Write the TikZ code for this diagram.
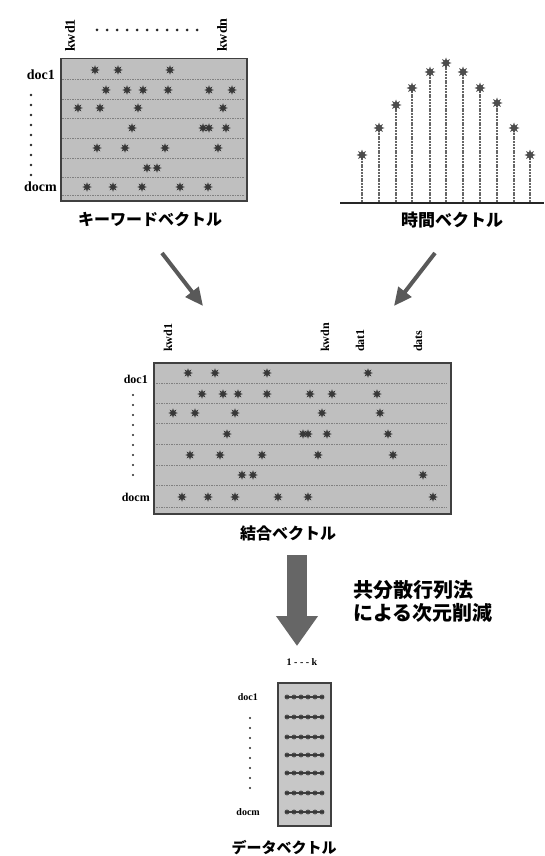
\documentclass[tikz,border=0pt]{standalone}
\usepackage{fontspec}
\setmainfont{Liberation Serif}
\newfontfamily\jp{Noto Sans CJK JP}
\usetikzlibrary{shapes.geometric,arrows.meta}
\begin{document}
\begin{tikzpicture}[x=1pt,y=-1pt,
  mbox/.style={draw=black!75, line width=1.5pt, fill=black!25, inner sep=0pt},
  sep/.style={draw=black!50, line width=0.8pt, dash pattern=on 1.5pt off 1pt},
  ast/.style={star, star points=8, star point ratio=2.0, fill=black!78, inner sep=0pt, minimum size=9.5pt},
  lbl/.style={font=\bfseries\fontsize{14}{14}\selectfont, inner sep=0pt},
  slbl/.style={font=\bfseries\fontsize{12}{12}\selectfont, inner sep=0pt},
  tlbl/.style={font=\bfseries\fontsize{10}{10}\selectfont, inner sep=0pt},
  jlbl/.style={font=\jp\bfseries\fontsize{16}{16}\selectfont, inner sep=0pt},
  vdots/.style={fill=black!85, circle, inner sep=0pt, minimum size=2.6pt},
  thinarrow/.style={draw=black!65, line width=4pt, -{Triangle[width=16pt,length=18pt]}},
  bigarrow/.style={draw=black!60, line width=20pt, -{Triangle[width=40pt,length=30pt]}},
  stem/.style={draw=black!60, line width=1.3pt, dash pattern=on 2pt off 0.8pt},
  drow/.style={draw=black!75, line width=1.6pt}
]
\path[use as bounding box, fill=white] (0,0) rectangle (544,856);

% ---------- keyword matrix ----------
\node[mbox, anchor=north west, minimum width=186pt, minimum height=142pt] (kw) at (60,58) {};
\foreach \yy in {79,99,118,138,158,177,195} \draw[sep] (62,\yy) -- (244,\yy);
\foreach \xx in {95,118,170} \node[ast] at (\xx,70) {};
\foreach \xx in {106,127,143,168,209,232} \node[ast] at (\xx,90) {};
\foreach \xx in {78,100,138,223} \node[ast] at (\xx,108) {};
\foreach \xx in {132,203,209,226} \node[ast] at (\xx,128) {};
\foreach \xx in {97,125,165,218} \node[ast] at (\xx,148) {};
\foreach \xx in {147,157} \node[ast] at (\xx,168) {};
\foreach \xx in {87,113,142,180,208} \node[ast] at (\xx,187) {};
\node[lbl, rotate=90, anchor=west] (kwd1) at (70,52) {kwd1};
\node[lbl, rotate=90, anchor=west] (kwdn) at (222,52) {kwdn};
\foreach \xx in {97,107,...,200} \node[vdots, minimum size=3pt] at (\xx,30) {};
\node[lbl, anchor=east] (doc1) at (55,75) {doc1};
\foreach \yy in {95,105,...,176} \node[vdots] at (31,\yy) {};
\node[lbl, anchor=east] (docm) at (57,187) {docm};
\node[jlbl] (kwlab) at (150,219) {キーワードベクトル};

% ---------- time vector ----------
\coordinate (bl) at (340,203);
\coordinate (br) at (544,203);
\draw[black!85, line width=2pt] (bl) -- (br);
\foreach \xx/\yy in {362/155,379/128,396/105,412/88,430/72,446/63,463/72,480/88,497/103,514/128,530/155}{
  \draw[stem] (\xx,202) -- (\xx,\yy);
  \node[ast, minimum size=11pt, fill=black!70] at (\xx,\yy) {};
}
\node[jlbl, font=\jp\bfseries\fontsize{17}{17}\selectfont] (tlab) at (452,220) {時間ベクトル};

% ---------- arrows to combined ----------
\coordinate (a1s) at (162,253);
\coordinate (a1e) at (203,306);
\coordinate (a2s) at (435,253);
\coordinate (a2e) at (394,306);
\draw[thinarrow] (a1s) -- (a1e);
\draw[thinarrow] (a2s) -- (a2e);

% ---------- combined matrix ----------
\node[mbox, anchor=north west, minimum width=297pt, minimum height=151pt] (cb) at (153,362) {};
\foreach \yy in {383,403,423,444,465,485,507} \draw[sep] (156,\yy) -- (447,\yy);
\foreach \xx in {188,215,267,368} \node[ast] at (\xx,373) {};
\foreach \xx in {202,223,238,267,310,332,377} \node[ast] at (\xx,394) {};
\foreach \xx in {173,195,235,322,380} \node[ast] at (\xx,413) {};
\foreach \xx in {227,303,308,327,388} \node[ast] at (\xx,434) {};
\foreach \xx in {190,220,262,318,393} \node[ast] at (\xx,455) {};
\foreach \xx in {242,253,423} \node[ast] at (\xx,475) {};
\foreach \xx in {182,208,235,278,308,433} \node[ast] at (\xx,497) {};
\node[slbl, rotate=90, anchor=west] (ckwd1) at (168,352) {kwd1};
\node[slbl, rotate=90, anchor=west] (ckwdn) at (325,352) {kwdn};
\node[slbl, rotate=90, anchor=west] (cdat1) at (360,352) {dat1};
\node[slbl, rotate=90, anchor=west] (cdats) at (418,352) {dats};
\node[slbl, anchor=east] (cdoc1) at (148,379) {doc1};
\foreach \yy in {395,405,...,476} \node[vdots, minimum size=2.2pt] at (133,\yy) {};
\node[slbl, anchor=east] (cdocm) at (150,497) {docm};
\node[jlbl] (cblab) at (288,533) {結合ベクトル};

% ---------- reduction arrow ----------
\coordinate (d1) at (297,555);
\coordinate (d2) at (297,646);
\draw[bigarrow] (d1) -- (d2);
\node[font=\jp\bfseries\fontsize{20}{20}\selectfont, inner sep=0pt, anchor=west] (m1) at (353,590) {共分散行列法};
\node[font=\jp\bfseries\fontsize{20}{20}\selectfont, inner sep=0pt, anchor=west] (m2) at (353,613) {による次元削減};

% ---------- data vector ----------
\node[tlbl] (dk) at (302,662) {1 - - - k};
\node[mbox, anchor=north west, minimum width=53pt, minimum height=143pt, fill=black!22] (dv) at (277,682) {};
\foreach \yy in {697,717,737,755,773,793,812}{
  \draw[drow] (285,\yy) -- (324,\yy);
  \foreach \xx in {287,294,301,308,315,322} \node[ast, minimum size=6pt] at (\xx,\yy) {};
}
\node[tlbl, anchor=east] (ddoc1) at (258,697) {doc1};
\foreach \yy in {718,728,...,794} \node[vdots, minimum size=2.2pt] at (250,\yy) {};
\node[tlbl, anchor=east] (ddocm) at (260,812) {docm};
\node[jlbl, font=\jp\bfseries\fontsize{15}{15}\selectfont] (dlab) at (284,848) {データベクトル};
\end{tikzpicture}
\end{document}
